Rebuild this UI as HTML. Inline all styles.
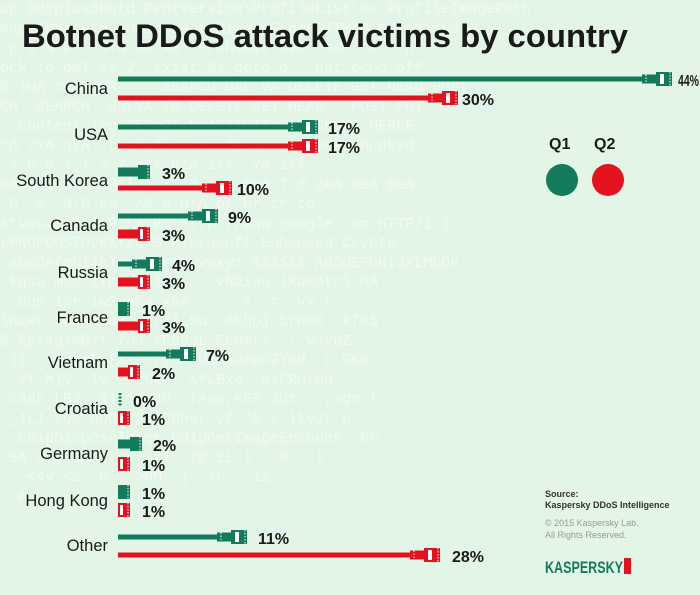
<!DOCTYPE html><html><head><meta charset="utf-8"><style>
body{margin:0}
#c{width:700px;height:595px;position:relative;overflow:hidden;background:#e3f5e7}
.code{position:absolute;left:0;top:0;width:700px;font-family:"Liberation Mono",monospace;font-size:15px;line-height:19.5px;color:#effaf1;white-space:pre}
svg text{font-family:"Liberation Sans",Arial,sans-serif;letter-spacing:0}
</style></head><body><div id="c">
<div class="code">up GdiplusShutd PentVersion\ProfileList\%s ProfileImagePath
mageToStream  GdipCreateBitmapFromHBITMAP GdipDispose
 p i 3 2   d!d dd xx  Prohibit DID  %s   k n p
ock :d del %s 2  exist %s goto d . bat echo off
@ )WA cWA iWA     SEARCH UNL VA DELETE GET HEAD POST
CH  SEARCH  UNLVA 7@ DELETE GET HEAD   POST PUT
  content-len REPORT MKACTIVITY CHECKOUT MERGE
"@ /YA qYA  transfer-encoding  upgrade chunked
 s h e l l 3 2 qYA dzA iYA  YA zYA
6A si@ 6A si@il 1  T @ zeA %eA T @ zeA %eA 0eA
 0  0  0:0 6A  A@ @ H+A br hr tr td
stvwxzD I S P LA B  http://www.google.com HTTP/1.1
LMNOPQRSTUVWXYZa@B Microsoft Enhanced Crypto
 abcdefghijklmnopqrstuvwxyz $$$$$$ ABCDEFGHIJKLMNOP
 kgsu mss IYbd zrlB ... vNaiou )Kamotrl MA
  Uqn ipr 1w2 @k4 xhA ...  x  =  v% t
lnzwr x0kwd2dd  2/4j 5u  8EUp] 5rn00  kf0$
@ RpxxgYm@Yt Ynn ARg8pL Ecbmr!  : WJVOZ
 )(  vGrrmF [X  +/| 6 U% 4dmpnZYhd  o GKo
  #f M]V  Tv   qGx+  %fLBx4- N+FRu|0g
 c4ab LBJ  4)|iE$4U  !Aoo,#E5 3Ut   ,sgn T
 _lL1 xQa gOGGFJ  3RHs( yf "5 s )kyJr p
  GdipDisposeImage GdipGetImageEncoder  0%
 6A si@ 6A   ..  fi  7@ 2L l  :8   l
 ' <4v <2  8  .>OM  j  xo.  i1
  A<OB!v @ (o =BZeLEOnS/ ) ,&oro A
 ketr  IRPIMLK@kW\ OX[ @@@  [4 W
  A^s%n$S  +KU!&  7e "&-Y _1
 sIOV 71@  Y  7 @ oOC)< @ b4 o
    , HVCn3ys!  @ C?@ I?@ S<\$ UV
 ru fk fitro@ d   x @ z.@ . d a t
entVersion\ProfileList\%s ProfileImagePath
mageToStream GdipCreateBitmapFromHBITMAP GdipDispose
H  SEARCH UNLVA 7@ DELETE GET HEAD POST PUT CONNECT
  content-len REPORT MKACTIVITY CHECKOUT MERGE
 SUBSCRIBE UNSUBSCRIBE PATCH PURGE connecti</div>
<svg width="700" height="595" style="position:absolute;left:0;top:0">
<defs>
<g id="pg"><rect x="-30" y="-4.5" width="16" height="9" fill="#137a5c"/><rect x="-16" y="-7" width="16" height="14" fill="#137a5c"/><rect x="-12" y="-5" width="4" height="10" fill="#fff"/><g stroke="#fff" stroke-width="1"><line x1="-2" y1="-7" x2="-2" y2="7" stroke-dasharray="1.5 1.5"/><line x1="-26" y1="-4.5" x2="-26" y2="4.5" stroke-dasharray="1.5 1.5"/></g></g>
<g id="pr"><rect x="-30" y="-4.5" width="16" height="9" fill="#e3121f"/><rect x="-16" y="-7" width="16" height="14" fill="#e3121f"/><rect x="-12" y="-5" width="4" height="10" fill="#fff"/><g stroke="#fff" stroke-width="1"><line x1="-2" y1="-7" x2="-2" y2="7" stroke-dasharray="1.5 1.5"/><line x1="-26" y1="-4.5" x2="-26" y2="4.5" stroke-dasharray="1.5 1.5"/></g></g>
<g id="sg"><rect x="-12" y="-7" width="12" height="14" fill="#137a5c"/><line x1="-2" y1="-7" x2="-2" y2="7" stroke="#fff" stroke-dasharray="1.5 1.5"/></g>
<g id="sr"><rect x="-12" y="-7" width="12" height="14" fill="#e3121f"/><rect x="-10" y="-5" width="3" height="10" fill="#fff"/><line x1="-2" y1="-7" x2="-2" y2="7" stroke="#fff" stroke-dasharray="1.5 1.5"/></g>
</defs>
<text x="22" y="47" font-size="32" font-weight="bold" fill="#1a1a1a" textLength="606" lengthAdjust="spacingAndGlyphs">Botnet DDoS attack victims by country</text>
<g font-size="16.5" fill="#1a1a1a" text-anchor="end">
<text x="108" y="94">China</text><text x="108" y="140">USA</text><text x="108" y="186">South Korea</text><text x="108" y="231">Canada</text><text x="108" y="278">Russia</text><text x="108" y="323">France</text><text x="108" y="368">Vietnam</text><text x="108" y="414">Croatia</text><text x="108" y="459">Germany</text><text x="108" y="506">Hong Kong</text><text x="108" y="551">Other</text>
</g>
<g id="bars"></g>
<g font-size="16" font-weight="bold" fill="#1a1a1a">
<text x="678" y="86" textLength="21" lengthAdjust="spacingAndGlyphs">44%</text><text x="462" y="105">30%</text>
<text x="328" y="134">17%</text><text x="328" y="153">17%</text>
<text x="162" y="179">3%</text><text x="237" y="195">10%</text>
<text x="228" y="223">9%</text><text x="162" y="241">3%</text>
<text x="172" y="271">4%</text><text x="162" y="289">3%</text>
<text x="142" y="316">1%</text><text x="162" y="333">3%</text>
<text x="206" y="361">7%</text><text x="152" y="379">2%</text>
<text x="133" y="407">0%</text><text x="142" y="425">1%</text>
<text x="153" y="451">2%</text><text x="142" y="471">1%</text>
<text x="142" y="499">1%</text><text x="142" y="517">1%</text>
<text x="258" y="544">11%</text><text x="452" y="562">28%</text>
</g>
<g font-size="16" font-weight="bold" fill="#1a1a1a"><text x="549" y="149">Q1</text><text x="594" y="149">Q2</text></g>
<circle cx="562" cy="180" r="16" fill="#137a5c"/><circle cx="608" cy="180" r="16" fill="#e3121f"/>
<g font-size="9" fill="#333"><text x="545" y="497" font-weight="bold">Source:</text><text x="545" y="508" font-weight="bold">Kaspersky DDoS Intelligence</text><g fill="#999"><text x="545" y="526">© 2015 Kaspersky Lab.</text><text x="545" y="538">All Rights Reserved.</text></g></g>
<text x="545" y="573" font-size="17" font-weight="bold" fill="#137a5c" textLength="78" lengthAdjust="spacingAndGlyphs">KASPERSKY</text><rect x="624" y="558" width="7" height="16" fill="#e3121f"/>
</svg>
<script>
var G='#137a5c',R='#e3121f',rows=[[79,672,G],[98,458,R],[127,318,G],[146,318,R],[172,150,G],[188,232,R],[216,218,G],[234,150,R],[264,162,G],[282,150,R],[309,130,G],[326,150,R],[354,196,G],[372,140,R],[400,0,G],[418,130,R],[444,142,G],[464,130,R],[492,130,G],[510,130,R],[537,247,G],[555,440,R]];
var s='';rows.forEach(function(r){var y=r[0],e=r[1],c=r[2],g=c==G;
if(e==0){s+='<line x1="120" y1="'+(y-7)+'" x2="120" y2="'+(y+7)+'" stroke="'+G+'" stroke-width="3" stroke-dasharray="2 1.5"/>';return;}
if(e-118<34){s+='<use href="#'+(g?'sg':'sr')+'" x="'+e+'" y="'+y+'"/>';if(e-118>14)s+='<rect x="118" y="'+(y-4.5)+'" width="'+(e-130)+'" height="9" fill="'+c+'"/>';return;}
s+='<rect x="118" y="'+(y-2.5)+'" width="'+(e-146)+'" height="5" fill="'+c+'"/><use href="#'+(g?'pg':'pr')+'" x="'+e+'" y="'+y+'"/>';});
document.getElementById('bars').innerHTML=s;
</script>
</div></body></html>
